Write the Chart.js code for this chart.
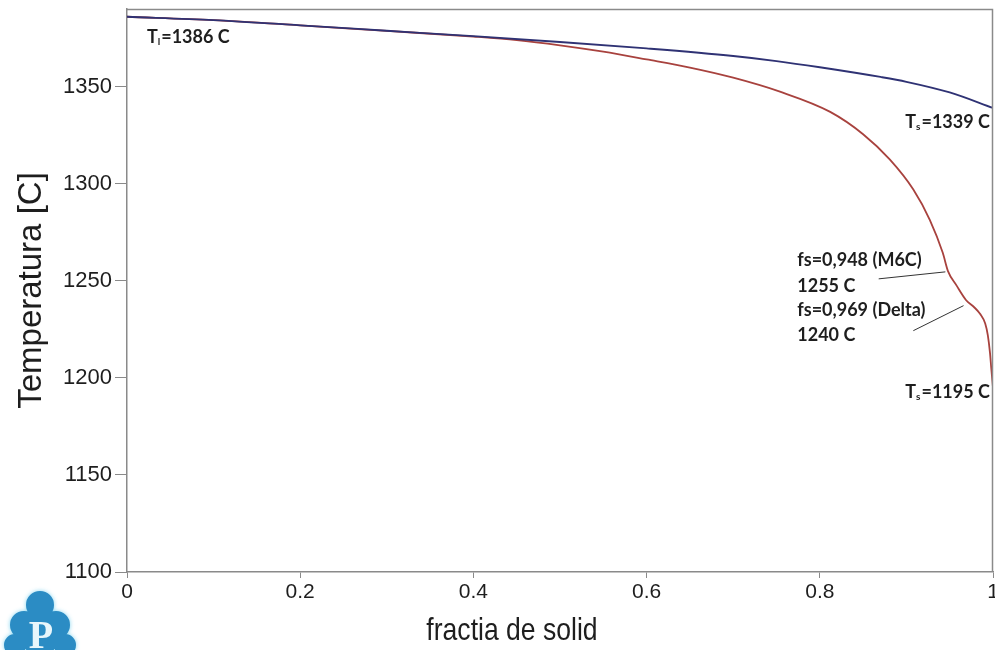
<!DOCTYPE html>
<html>
<head>
<meta charset="utf-8">
<script src="https://cdn.jsdelivr.net/npm/chart.js@4/dist/chart.umd.min.js"></script>
<style>
  html, body { margin: 0; padding: 0; background: #fff; }
  #wrap { width: 995px; height: 650px; }
</style>
</head>
<body>
<div id="wrap"><canvas id="chart" width="995" height="650"></canvas></div>
<script>
// equilibrium (lever rule) curve
const fsEq = [0, 0.1, 0.2, 0.3, 0.4, 0.5, 0.6, 0.7, 0.75, 0.8, 0.87, 0.9, 0.95, 1.0];
const tEq = [1386, 1384.3, 1381.6, 1378.8, 1376, 1373, 1369.7, 1365.8, 1363.2, 1360, 1355, 1352.5, 1347, 1339];

// Scheil curve
const fsScheil = [0, 0.1, 0.2, 0.3, 0.4, 0.45, 0.5, 0.55, 0.6, 0.65, 0.7, 0.754, 0.812, 0.85, 0.881,
  0.908, 0.927, 0.942, 0.948, 0.958, 0.969, 0.978, 0.985, 0.991, 0.994, 0.9965, 0.998, 1.0];
const tScheil = [1386, 1384.3, 1381.6, 1378.7, 1375.8, 1374, 1371.3, 1368, 1364, 1359.8, 1354.6, 1347.4, 1337, 1325.5, 1312.4,
  1297, 1281.4, 1264.4, 1255, 1247.5, 1240, 1236.5, 1233, 1228, 1222, 1213, 1205, 1195];

const xTicks = [0, 0.2, 0.4, 0.6, 0.8, 1];
const xTickLabels = ['0', '0.2', '0.4', '0.6', '0.8', '1'];
const yTicks = [1100, 1150, 1200, 1250, 1300, 1350];

const xTitle = 'fractia de solid';
const yTitle = 'Temperatura [C]';

const AXIS = '#8a8a8a';
const TXT = '#1e1e1e';
const NOTE_FONT = "bold 18px Lato, 'Open Sans', sans-serif";
const SUB_FONT = "bold 10px Lato, 'Open Sans', sans-serif";

// text notes, positioned in data units (fs, T)
const notes = [
  { pre: 'T', sub: 'l', post: '=1386 C', x: 0.023, y: 1372.5, align: 'left' },
  { pre: 'T', sub: 's', post: '=1339 C', x: 0.9965, y: 1328.7, align: 'right' },
  { pre: 'fs=0,948 (M6C)', x: 0.774, y: 1257.6, align: 'left' },
  { pre: '1255 C', x: 0.774, y: 1244.2, align: 'left' },
  { pre: 'fs=0,969 (Delta)', x: 0.774, y: 1231.9, align: 'left' },
  { pre: '1240 C', x: 0.774, y: 1219, align: 'left' },
  { pre: 'T', sub: 's', post: '=1195 C', x: 0.9965, y: 1189.6, align: 'right' }
];

// leader lines from label to the kink on the Scheil curve
const leaders = [
  { from: [0.868, 1251], to: [0.945, 1254.6] },
  { from: [0.908, 1224.3], to: [0.966, 1237.2] }
];

function toPts(xs, ys) {
  return xs.map((x, i) => ({ x, y: ys[i] }));
}

const decorPlugin = {
  id: 'decor',
  afterDraw(chart) {
    const { ctx, chartArea: a, scales } = chart;
    const sx = scales.x, sy = scales.y;

    ctx.save();
    // box: top + right
    ctx.strokeStyle = AXIS;
    ctx.lineWidth = 1.5;
    ctx.beginPath();
    ctx.moveTo(a.left, a.top + 0.5);
    ctx.lineTo(a.right - 0.5, a.top + 0.5);
    ctx.lineTo(a.right - 0.5, a.bottom);
    ctx.stroke();

    // leaders
    ctx.strokeStyle = '#333';
    ctx.lineWidth = 1;
    for (const l of leaders) {
      ctx.beginPath();
      ctx.moveTo(sx.getPixelForValue(l.from[0]), sy.getPixelForValue(l.from[1]));
      ctx.lineTo(sx.getPixelForValue(l.to[0]), sy.getPixelForValue(l.to[1]));
      ctx.stroke();
    }

    // notes
    ctx.fillStyle = TXT;
    ctx.textBaseline = 'alphabetic';
    ctx.textAlign = 'left';
    for (const n of notes) {
      const px = sx.getPixelForValue(n.x);
      const py = sy.getPixelForValue(n.y);
      ctx.font = NOTE_FONT;
      const w1 = ctx.measureText(n.pre).width;
      const w3 = n.post ? ctx.measureText(n.post).width : 0;
      ctx.font = SUB_FONT;
      const w2 = n.sub ? ctx.measureText(n.sub).width + 1 : 0;
      let x0 = n.align === 'right' ? px - (w1 + w2 + w3) : px;
      ctx.font = NOTE_FONT;
      ctx.fillText(n.pre, x0, py);
      if (n.sub) {
        ctx.font = SUB_FONT;
        ctx.fillText(n.sub, x0 + w1, py + 2);
        ctx.font = NOTE_FONT;
        ctx.fillText(n.post, x0 + w1 + w2, py);
      }
    }

    // x axis title, a bit left of centre and narrow like the source
    ctx.save();
    ctx.translate(512, 640);
    ctx.scale(0.83, 1);
    ctx.font = "32px 'Liberation Sans', Arial, sans-serif";
    ctx.fillStyle = TXT;
    ctx.textAlign = 'center';
    ctx.fillText(xTitle, 0, 0);
    ctx.restore();

    // logo in the lower-left corner
    ctx.fillStyle = '#2b8cc4';
    ctx.shadowColor = 'rgba(120,210,240,0.9)';
    ctx.shadowBlur = 4;
    ctx.beginPath();
    [[40, 605, 14], [24, 625, 14], [56, 625, 14], [40, 634, 21], [15, 645, 11], [65, 645, 11]].forEach(([cx, cy, r]) => {
      ctx.moveTo(cx + r, cy);
      ctx.arc(cx, cy, r, 0, Math.PI * 2);
    });
    ctx.fill();
    ctx.shadowBlur = 0;
    ctx.fillStyle = '#e8f6fb';
    ctx.font = "bold 40px 'Liberation Serif', serif";
    ctx.textAlign = 'center';
    ctx.fillText('P', 41, 648);
    ctx.restore();
  }
};

new Chart(document.getElementById('chart'), {
  type: 'scatter',
  data: {
    datasets: [
      {
        label: 'equilibrium',
        data: toPts(fsEq, tEq),
        showLine: true,
        borderColor: '#2f3274',
        borderWidth: 1.8,
        pointRadius: 0,
        cubicInterpolationMode: 'monotone'
      },
      {
        label: 'Scheil',
        data: toPts(fsScheil, tScheil),
        showLine: true,
        borderColor: '#a8423e',
        borderWidth: 1.8,
        pointRadius: 0,
        cubicInterpolationMode: 'monotone'
      }
    ]
  },
  options: {
    responsive: false,
    animation: false,
    layout: { padding: { top: 9, right: 2, left: 0, bottom: 0 } },
    plugins: {
      legend: { display: false },
      tooltip: { enabled: false }
    },
    scales: {
      x: {
        type: 'linear',
        min: 0,
        max: 1,
        afterBuildTicks: s => { s.ticks = xTicks.map(v => ({ value: v })); },
        afterFit: s => { s.height = 78; s.paddingLeft = 0; s.paddingRight = 0; },
        ticks: {
          color: TXT,
          font: { family: "'Liberation Sans', Arial, sans-serif", size: 21 },
          padding: 2,
          maxRotation: 0,
          callback: (v) => xTickLabels[xTicks.indexOf(v)] ?? ''
        },
        grid: { drawOnChartArea: false, tickLength: 6, color: AXIS, lineWidth: 1 },
        border: { color: AXIS, width: 1.5 },
        title: { display: false }
      },
      y: {
        type: 'linear',
        min: 1100,
        max: 1390,
        afterBuildTicks: s => { s.ticks = yTicks.map(v => ({ value: v })); },
        afterFit: s => { s.width = 127; s.paddingTop = 0; s.paddingBottom = 0; },
        ticks: {
          color: TXT,
          font: { family: "'Liberation Sans', Arial, sans-serif", size: 22 },
          padding: 3,
          callback: v => String(v)
        },
        grid: { drawOnChartArea: false, tickLength: 12, color: AXIS, lineWidth: 1 },
        border: { color: AXIS, width: 1.5 },
        title: {
          display: true,
          text: yTitle,
          color: TXT,
          font: { family: "'Liberation Sans', sans-serif", size: 33 },
          padding: { top: 12, bottom: 0 }
        }
      }
    }
  },
  plugins: [decorPlugin]
});
</script>
</body>
</html>
